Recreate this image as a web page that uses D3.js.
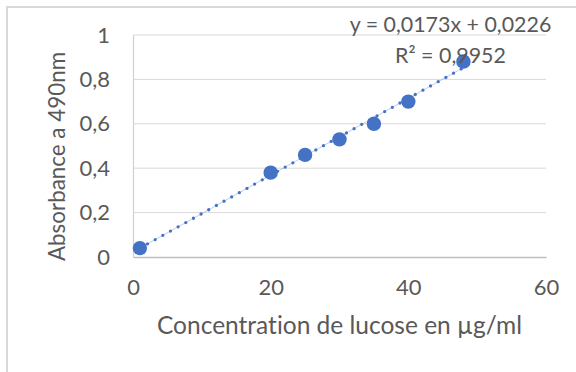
<!DOCTYPE html>
<html>
<head>
<meta charset="utf-8">
<script src="https://cdn.jsdelivr.net/npm/d3@7"></script>
<style>
  html, body { margin: 0; padding: 0; background: #fff; }
  svg { display: block; }
  text { font-family: Lato, "Open Sans", sans-serif; fill: #595959; font-variant-ligatures: none; }
</style>
</head>
<body>
<svg id="chart" width="576" height="372"></svg>
<script>
// Glucose calibration: concentration (µg/ml) vs absorbance at 490 nm
const concentration = [1, 20, 25, 30, 35, 40, 48];
const absorbance = [0.04, 0.38, 0.46, 0.53, 0.60, 0.70, 0.88];

// Linear trendline fitted to the points
const slope = 0.0173;
const intercept = 0.0226;
const rSquared = 0.9952;

const xTicks = [0, 20, 40, 60];
const yTicks = [0, 0.2, 0.4, 0.6, 0.8, 1];

const xTitle = "Concentration de lucose en µg/ml";
const yTitle = "Absorbance a 490nm";

const frLocale = d3.formatLocale({ decimal: ",", thousands: " ", grouping: [3], currency: ["", " €"] });
const fmtTick = frLocale.format("~g");
const fmtCoef = frLocale.format(".4f");

const svg = d3.select("#chart");
const W = 576, H = 372;
const plot = { left: 133, right: 546, top: 35, bottom: 257 };

const x = d3.scaleLinear().domain([0, 60]).range([plot.left, plot.right]);
const y = d3.scaleLinear().domain([0, 1]).range([plot.bottom, plot.top]);

// chart frame
svg.append("path")
  .attr("d", `M7,${H} L7,7 L${W},7`)
  .attr("fill", "none")
  .attr("stroke", "#d9d9d9")
  .attr("stroke-width", 2);

// horizontal gridlines
svg.append("g")
  .selectAll("line")
  .data(yTicks.filter(d => d > 0))
  .join("line")
  .attr("x1", plot.left).attr("x2", plot.right)
  .attr("y1", d => y(d)).attr("y2", d => y(d))
  .attr("stroke", "#d9d9d9").attr("stroke-width", 1);

// y axis
const yAxis = svg.append("g")
  .attr("transform", `translate(${plot.left},0)`)
  .call(d3.axisLeft(y).tickValues(yTicks).tickFormat(fmtTick).tickSize(0).tickPadding(23));
yAxis.select(".domain").attr("stroke", "#d0d0d0").attr("stroke-width", 1.2);
yAxis.selectAll("text").attr("font-size", 22).attr("fill", "#595959")
  .style("font-family", "Lato, 'Open Sans', sans-serif");

// x axis
const xAxis = svg.append("g")
  .attr("transform", `translate(0,${plot.bottom})`)
  .call(d3.axisBottom(x).tickValues(xTicks).tickFormat(fmtTick).tickSize(0).tickPadding(22));
xAxis.select(".domain").attr("stroke", "#bfbfbf").attr("stroke-width", 1.5);
xAxis.selectAll("text").attr("font-size", 22).attr("fill", "#595959")
  .style("font-family", "Lato, 'Open Sans', sans-serif");

// axis titles
svg.append("text")
  .attr("x", (plot.left + plot.right) / 2)
  .attr("y", 334)
  .attr("text-anchor", "middle")
  .attr("font-size", 24.5)
  .text(xTitle);

svg.append("text")
  .attr("transform", `translate(65,156.5) rotate(-90)`)
  .attr("text-anchor", "middle")
  .attr("font-size", 22.4)
  .text(yTitle);

// trendline across the data range
const xMin = d3.min(concentration), xMax = d3.max(concentration);
const trend = [xMin, xMax].map(c => [c, slope * c + intercept]);
const lineGen = d3.line().x(d => x(d[0])).y(d => y(d[1]));

svg.append("path")
  .attr("d", lineGen(trend))
  .attr("fill", "none")
  .attr("stroke", "#4472c4")
  .attr("stroke-opacity", 0.45)
  .attr("stroke-width", 0.8);

svg.append("path")
  .attr("d", lineGen(trend))
  .attr("fill", "none")
  .attr("stroke", "#4472c4")
  .attr("stroke-width", 3.3)
  .attr("stroke-linecap", "round")
  .attr("stroke-dasharray", "0 8.76");

// data points
svg.append("g")
  .selectAll("circle")
  .data(concentration.map((c, i) => [c, absorbance[i]]))
  .join("circle")
  .attr("cx", d => x(d[0]))
  .attr("cy", d => y(d[1]))
  .attr("r", 7.2)
  .attr("fill", "#4472c4");

// trendline equation and R²
const eqX = 450.5;
svg.append("text")
  .attr("x", eqX).attr("y", 32)
  .attr("text-anchor", "middle")
  .attr("font-size", 21.4)
  .text(`y = ${fmtCoef(slope)}x + ${fmtCoef(intercept)}`);

svg.append("text")
  .attr("x", eqX).attr("y", 63)
  .attr("text-anchor", "middle")
  .attr("font-size", 21.4)
  .text(`R² = ${fmtCoef(rSquared)}`);
</script>
</body>
</html>
